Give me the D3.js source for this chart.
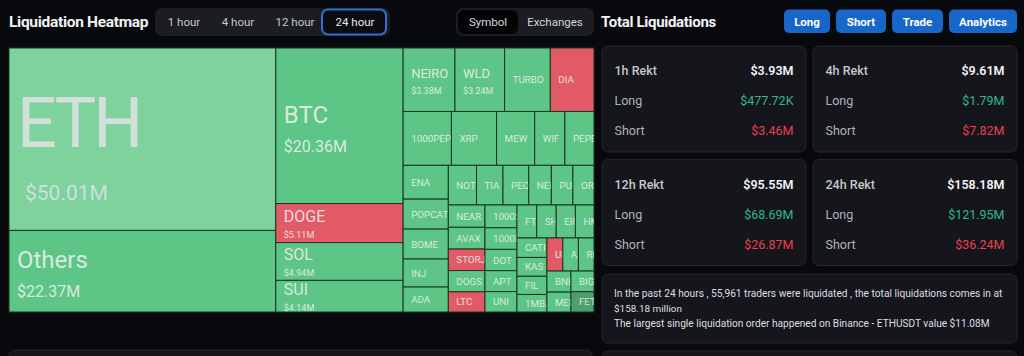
<!DOCTYPE html>
<html><head><meta charset="utf-8">
<script src="https://cdn.jsdelivr.net/npm/d3@7"></script>
<style>
html,body{margin:0;padding:0;background:#08090d;overflow:hidden;}
svg{display:block;font-family:Roboto,"Noto Sans",sans-serif;}
</style></head><body>
<svg id="c" width="1024" height="356"></svg>
<script>
// ---- data ----
const symbols = ["ETH","Others","BTC","DOGE","SOL","SUI","NEIRO","WLD","TURBO","DIA",
  "1000PEPE","XRP","MEW","WIF","PEPE","ENA","POPCAT","BOME","INJ","ADA",
  "NOT","TIA","PEOPLE","NEIROETH","PUFFER","ORDI","NEAR","AVAX","STORJ","DOGS","LTC",
  "1000SATS","1000BONK","DOT","APT","UNI","FTM","SHIB","EIGEN","HMSTR",
  "CATI","KAS","FIL","1MBABYDOGE","UMA","AAVE","RENDER","BNB","MEME","BIGTIME","FET"];
const values = [50.01,22.37,20.36,5.11,4.94,4.14,3.38,3.24,2.98,2.85,
  2.67,2.50,2.11,1.67,1.61,1.57,1.39,1.39,1.30,1.16,
  1.15,1.08,1.05,0.92,0.88,0.86,0.84,0.82,0.81,0.80,0.76,
  0.75,0.71,0.70,0.69,0.67,0.67,0.66,0.65,0.63,
  0.60,0.58,0.56,0.54,0.54,0.53,0.53,0.52,0.49,0.49,0.48];
const sides = ["lg","g","g","r","g","g","g","g","g","r",
  "g","g","g","g","g","g","g","g","g","g",
  "g","g","g","g","g","g","g","g","r","g","r",
  "g","g","g","g","g","g","g","g","g",
  "g","g","g","g","r","g","g","g","g","g","dg"];
const periods = ["1 hour","4 hour","12 hour","24 hour"];
const views = ["Symbol","Exchanges"];
const actions = ["Long","Short","Trade","Analytics"];
const rektLabels = ["1h Rekt","4h Rekt","12h Rekt","24h Rekt"];
const rektTotal = ["$3.93M","$9.61M","$95.55M","$158.18M"];
const rektLong = ["$477.72K","$1.79M","$68.69M","$121.95M"];
const rektShort = ["$3.46M","$7.82M","$26.87M","$36.24M"];
const infoLines = ["In the past 24 hours , 55,961 traders were liquidated , the total liquidations comes in at",
  "$158.18 million",
  "The largest single liquidation order happened on Binance - ETHUSDT value $11.08M"];

// ---- drawing ----
const svg = d3.select("#c");

// header left
svg.append("text").attr("x",9).attr("y",27).attr("fill","#f2f3f5")
  .attr("font-size",15.5).attr("font-weight",700).attr("letter-spacing",-0.3).text("Liquidation Heatmap");
svg.append("rect").attr("x",155).attr("y",8).attr("width",235).attr("height",28).attr("rx",7).attr("fill","#1b1d23");
const pillX = [184,238,295,355];
svg.append("rect").attr("x",322).attr("y",9.5).attr("width",64).attr("height",25).attr("rx",6)
  .attr("fill","#0b0c10").attr("stroke","#2f6ed3").attr("stroke-width",2);
svg.selectAll("text.pill").data(periods).join("text").attr("class","pill")
  .attr("x",(d,i)=>pillX[i]).attr("y",22).attr("text-anchor","middle").attr("dominant-baseline","central")
  .attr("font-size",11.5).attr("fill",(d,i)=>i===3?"#e8eaee":"#c3c7cd").text(d=>d);

svg.append("rect").attr("x",456).attr("y",8).attr("width",138).attr("height",28).attr("rx",7).attr("fill","#1b1d23");
svg.append("rect").attr("x",458).attr("y",10).attr("width",60).attr("height",24).attr("rx",6).attr("fill","#040406");
const viewX = [488,555];
svg.selectAll("text.view").data(views).join("text").attr("class","view")
  .attr("x",(d,i)=>viewX[i]).attr("y",22).attr("text-anchor","middle").attr("dominant-baseline","central")
  .attr("font-size",11.5).attr("fill","#d3d6db").text(d=>d);

// treemap
const TX=9, TY=48, TW=585, TH=264;
const root = d3.hierarchy({children: symbols.map((s,i)=>({name:s,value:values[i],side:sides[i]}))})
  .sum(d=>d.value).sort((a,b)=>b.value-a.value);
d3.treemap().size([TW,TH]).tile(d3.treemapSquarify)(root);
const colour = d3.scaleOrdinal().domain(["lg","g","dg","r"]).range(["#7ed39d","#5dc585","#4f9f6d","#e35a67"]);
const tier = d3.scaleThreshold().domain([3.2,4,15,40]).range([0,1,2,3,4]);
const nameSize=[9.8,13,16,24,70], valueSize=[0,9,9,16,21];
const nameDy=[0,-2,-1,-3,8], valueDy=[0,14,14.5,26,61], valueDx=[0,0,0,0,8];
const nameLS=[0,0,0,0,-3];
const g = svg.append("g").attr("transform",`translate(${TX},${TY})`);
const defs = svg.append("defs");
const leaves = root.leaves();
leaves.forEach((d,i)=>{
  defs.append("clipPath").attr("id","cp"+i).append("rect")
    .attr("x",d.x0).attr("y",d.y0).attr("width",d.x1-d.x0).attr("height",d.y1-d.y0);
});
const cell = g.selectAll("g.cell").data(leaves).join("g").attr("class","cell");
cell.append("rect").attr("x",d=>d.x0).attr("y",d=>d.y0)
  .attr("width",d=>d.x1-d.x0).attr("height",d=>d.y1-d.y0)
  .attr("fill",d=>colour(d.data.side)).attr("stroke","#1c3526").attr("stroke-width",1);
const lab = cell.append("g").attr("clip-path",(d,i)=>`url(#cp${i})`);
const names = lab.append("text")
  .attr("x",d=>d.x0+8)
  .attr("y",d=>{const t=tier(d.value);const cy=(d.y0+d.y1)/2;return t===0?cy+3.5:cy+nameDy[t];})
  .attr("font-size",d=>nameSize[tier(d.value)])
  .attr("letter-spacing",d=>nameLS[tier(d.value)])
  .attr("fill",d=>d.data.side==="lg"?"#dfe2e5":"#eef2ef").attr("fill-opacity",0.86)
  .text(d=>d.data.name);
// drop characters that start beyond the cell edge (the rest is clipped by the cell)
names.each(function(d){
  const n=this.getNumberOfChars();
  let k=n;
  while(k>1 && this.getStartPositionOfChar(k-1).x >= d.x1-1) k--;
  if(k<n) this.textContent=d.data.name.slice(0,k);
});
lab.filter(d=>tier(d.value)>0).append("text")
  .attr("x",d=>d.x0+8+valueDx[tier(d.value)])
  .attr("y",d=>(d.y0+d.y1)/2+valueDy[tier(d.value)])
  .attr("font-size",d=>valueSize[tier(d.value)])
  .attr("fill",d=>d.data.side==="lg"?"#dfe2e5":"#eef2ef").attr("fill-opacity",0.86)
  .text(d=>"$"+d.value.toFixed(2)+"M");

// right panel
svg.append("text").attr("x",601).attr("y",27).attr("fill","#f2f3f5")
  .attr("font-size",15).attr("font-weight",700).attr("letter-spacing",-0.3).text("Total Liquidations");
const btnX=[784,836,892,949], btnW=[46,50,51,68];
const btn = svg.selectAll("g.btn").data(actions).join("g").attr("class","btn");
btn.append("rect").attr("x",(d,i)=>btnX[i]).attr("y",9.5).attr("width",(d,i)=>btnW[i]).attr("height",23.5)
  .attr("rx",5).attr("fill","#1766c8");
btn.append("text").attr("x",(d,i)=>btnX[i]+btnW[i]/2).attr("y",21.5).attr("text-anchor","middle")
  .attr("dominant-baseline","central").attr("font-size",11.5).attr("font-weight",700).attr("fill","#ffffff").text(d=>d);

const cardX=[602,813], cardY=[46,159.5], cardW=204, cardH=106;
const cards = svg.selectAll("g.card").data(rektLabels).join("g").attr("class","card")
  .attr("transform",(d,i)=>`translate(${cardX[i%2]},${cardY[Math.floor(i/2)]})`);
cards.append("rect").attr("width",cardW).attr("height",cardH).attr("rx",6)
  .attr("fill","#15161b").attr("stroke","#24262c");
cards.append("text").attr("x",12.5).attr("y",29).attr("font-size",12.5).attr("font-weight",500).attr("fill","#c4c8ce").text(d=>d);
cards.append("text").attr("x",12.5).attr("y",59).attr("font-size",12.5).attr("fill","#aeb3ba").text("Long");
cards.append("text").attr("x",12.5).attr("y",89).attr("font-size",12.5).attr("fill","#aeb3ba").text("Short");
cards.append("text").attr("x",cardW-12.5).attr("y",29).attr("text-anchor","end").attr("font-size",12.5).attr("font-weight",600).attr("fill","#f2f3f5").text((d,i)=>rektTotal[i]);
cards.append("text").attr("x",cardW-12.5).attr("y",59).attr("text-anchor","end").attr("font-size",12.5).attr("fill","#2fb98a").text((d,i)=>rektLong[i]);
cards.append("text").attr("x",cardW-12.5).attr("y",89).attr("text-anchor","end").attr("font-size",12.5).attr("fill","#ee3f4d").text((d,i)=>rektShort[i]);

svg.append("rect").attr("x",602).attr("y",274).attr("width",415).attr("height",69).attr("rx",6)
  .attr("fill","#15161b").attr("stroke","#24262c");
const infoW=[389,68,376];
const info = svg.selectAll("text.info").data(infoLines).join("text").attr("class","info")
  .attr("x",614).attr("y",(d,i)=>297+i*15).attr("font-size",11.5).attr("fill","#dcdfe3")
  .style("font-family",'"Liberation Sans Narrow",Roboto,sans-serif')
  .text(d=>d);
info.each(function(d,i){
  const w=this.getComputedTextLength();
  if(w>infoW[i]*1.04){
    d3.select(this).attr("font-size",11.5*infoW[i]/w*1.0);
  }
});

// lower panels (partially visible)
svg.append("rect").attr("x",9).attr("y",350).attr("width",583).attr("height",30).attr("rx",6).attr("fill","#15161b").attr("stroke","#24262c");
svg.append("rect").attr("x",602).attr("y",351).attr("width",415).attr("height",30).attr("rx",6).attr("fill","#15161b").attr("stroke","#24262c");
</script>
</body></html>
